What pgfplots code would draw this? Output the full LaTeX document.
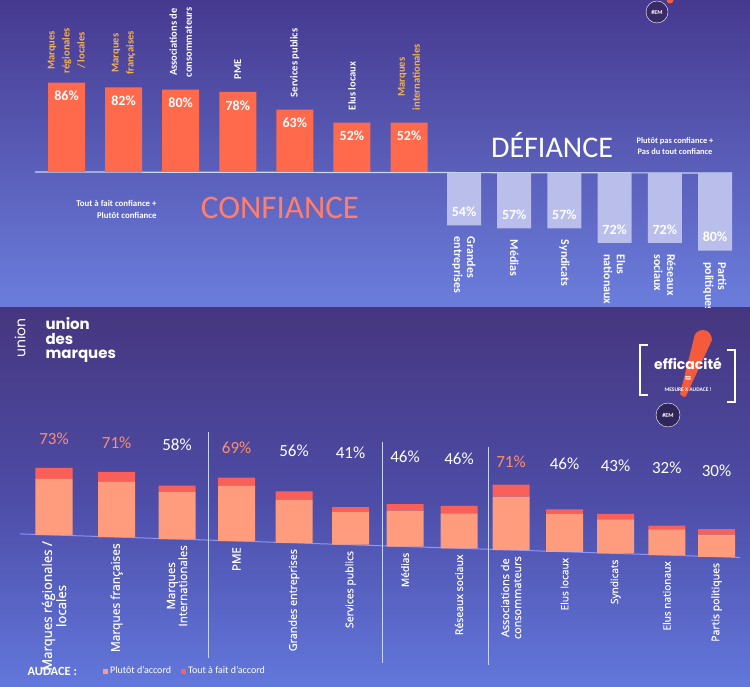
\documentclass[border=0pt]{standalone}
\usepackage{pgfplots}
\pgfplotsset{compat=1.18}
\usepackage{pgfplotstable}
\usepackage{fontspec}
\setmainfont{Carlito}
\newfontfamily\os[FakeBold=0.5]{Open Sans}
\newfontfamily\pop{Poppins}
\definecolor{topA}{HTML}{46398F}
\definecolor{topB}{HTML}{6B7EDD}
\definecolor{botA}{HTML}{46367F}
\definecolor{botB}{HTML}{4D4CA6}
\definecolor{botC}{HTML}{6277DC}
\definecolor{conf}{HTML}{FF6A4C}
\definecolor{gold}{HTML}{F6B24C}
\definecolor{salm}{HTML}{FF7E6C}
\definecolor{defb}{HTML}{BABEEA}
\definecolor{lightb}{HTML}{FF9C7E}
\definecolor{darkb}{HTML}{F9605A}
\definecolor{pct}{HTML}{FF8E6A}
\definecolor{rule}{HTML}{C6D6F2}
\definecolor{excl}{HTML}{F45A3C}
\newcommand\cflab{\bfseries\fontsize{10.5}{15}\selectfont}
\newcommand\dflab{\bfseries\fontsize{12}{13}\selectfont}
\newcommand\pfont{\fontsize{17}{19}\selectfont}
\newcommand\ls[1]{\fontsize{#1}{16}\selectfont}

\pgfplotstableread{
pos val
0 86
1 82
2 80
3 78
4 63
5 52
6 52
}\conftab
\pgfplotstableread{
pos val
0 54
1 57
2 57
3 72
4 72
5 80
}\deftab
\pgfplotstableread{
x p t
54 61 12
116.6 60 11
177 51 7
236.6 60 9
294 47 9
350.5 36 5
405 39 7
459 38 8
511 58 13
564.5 41 5
615.5 37 6
666.8 28 4
716.5 24 6
}\audtab

\begin{document}
\begin{tikzpicture}[x=1pt,y=1pt]
\path[use as bounding box] (0,0) rectangle (750,686);
\shade[top color=topA, bottom color=topB] (0,378) rectangle (750,686);
\shade[top color=botA, bottom color=botC, middle color=botB] (0,0) rectangle (750,378);

% ---------- top slide ----------
\begin{scope}
\clip (0,378) rectangle (750,686);
\draw[rule, line width=1.2pt] (35,514) -- (732,513);
\begin{axis}[at={(37.96pt,514pt)}, anchor=south west, scale only axis,
  width=399.6pt, height=105.9pt,
  xmin=-0.5, xmax=6.5, ymin=10, ymax=100, hide axis,
  ybar, bar width=37pt, clip mode=individual,
  /pgf/number format/assume math mode=true,
  nodes near coords={\pgfmathprintnumber{\pgfplotspointmeta}\%},
  nodes near coords align={anchor=north},
  every node near coord/.append style={font=\bfseries\fontsize{14}{16}\selectfont, text=white, yshift=-5pt}]
\addplot[fill=conf, draw=none] table[x=pos,y=val]{\conftab};
\path (axis cs:0,86) ++(0pt,6pt) node[rotate=90,anchor=west,align=center,text=gold,font=\cflab]{Marques\\régionales\\/ locales};
\path (axis cs:1,82) ++(0pt,9pt) node[rotate=90,anchor=west,align=center,text=gold,font=\cflab]{Marques\\françaises};
\path (axis cs:2,80) ++(0pt,9pt) node[rotate=90,anchor=west,align=center,text=white,font=\cflab]{Associations de\\consommateurs};
\path (axis cs:3,78) ++(0pt,9pt) node[rotate=90,anchor=west,align=center,text=white,font=\cflab]{PME};
\path (axis cs:4,63) ++(0pt,9pt) node[rotate=90,anchor=west,align=center,text=white,font=\cflab]{Services publics};
\path (axis cs:5,52) ++(0pt,9pt) node[rotate=90,anchor=west,align=center,text=white,font=\cflab]{Elus locaux};
\path (axis cs:6,52) ++(0pt,9pt) node[rotate=90,anchor=west,align=center,text=gold,font=\cflab]{Marques\\internationales};
\end{axis}

\begin{axis}[at={(438.9pt,513pt)}, anchor=north west, scale only axis,
  width=301.2pt, height=97pt,
  xmin=-0.5, xmax=5.5, ymin=0, ymax=100, y dir=reverse, hide axis,
  ybar, bar width=34pt, clip=false,
  /pgf/number format/assume math mode=true,
  nodes near coords={\pgfmathprintnumber{\pgfplotspointmeta}\%},
  nodes near coords align={anchor=south},
  every node near coord/.append style={font=\bfseries\fontsize{14}{16}\selectfont, text=white, yshift=5pt}]
\addplot[fill=defb, draw=none] table[x=pos,y=val]{\deftab};
\path (axis cs:0,54) ++(0pt,-8pt) node[rotate=-90,anchor=west,align=left,text=white,font=\dflab]{Grandes\\entreprises};
\path (axis cs:1,57) ++(0pt,-8pt) node[rotate=-90,anchor=west,align=left,text=white,font=\dflab]{Médias};
\path (axis cs:2,57) ++(0pt,-8pt) node[rotate=-90,anchor=west,align=left,text=white,font=\dflab]{Syndicats};
\path (axis cs:3,72) ++(0pt,-8pt) node[rotate=-90,anchor=west,align=left,text=white,font=\dflab]{Elus\\nationaux};
\path (axis cs:4,72) ++(0pt,-8pt) node[rotate=-90,anchor=west,align=left,text=white,font=\dflab]{Réseaux\\sociaux};
\path (axis cs:5,80) ++(0pt,-8pt) node[rotate=-90,anchor=west,align=left,text=white,font=\dflab]{Partis\\politiques};
\end{axis}

\node[text=salm, font=\fontsize{33}{36}\selectfont] at (280,478) {CONFIANCE};
\node[text=white, font=\fontsize{30}{33}\selectfont] at (552,541) {DÉFIANCE};
\node[anchor=east, align=right, text=white, font=\bfseries\fontsize{8.8}{12}\selectfont] at (160,477) {Tout à fait confiance +\\Plutôt confiance};
\node[align=center, text=white, font=\bfseries\fontsize{8.4}{11}\selectfont] at (675,540) {Plutôt pas confiance +\\Pas du tout confiance};
\fill[excl] (670,686) circle (3.5);
\draw[white, fill=botA!80!black, line width=0.4pt] (657,674) circle (11);
\node[text=white, font=\bfseries\fontsize{6}{6}\selectfont] at (657,674) {\#EM};
\end{scope}

% ---------- bottom slide ----------
\node[rotate=90, text=white, font=\pop\fontsize{14}{14}\selectfont] at (20,348) {union};
\node[anchor=north west, align=left, text=white, font=\pop\bfseries\fontsize{15}{14.5}\selectfont] at (42,372) {union\\des\\marques};

\fill[excl] (694,348) to[out=90,in=180] (703,356) to[out=0,in=90] (712,346) -- (686,290) to[out=230,in=-60] (680,292) -- cycle;
\draw[white, line width=2.5pt] (648,341) -- (640,341) -- (640,291) -- (648,291);
\draw[white, line width=2.5pt] (727,336) -- (735,336) -- (735,284) -- (727,284);
\node[text=white, font=\pop\bfseries\fontsize{14}{14}\selectfont] at (688,322) {efficacité};
\node[text=white, font=\bfseries\fontsize{13}{13}\selectfont] at (688,306) {=};
\node[text=white, font=\bfseries\fontsize{5.5}{6}\selectfont] at (688,296) {MESURE X AUDACE !};
\draw[white, fill=botA!70!black, line width=0.4pt] (668,271) circle (12);
\node[text=white, font=\bfseries\fontsize{6}{6}\selectfont] at (668,271) {\#EM};

\begin{axis}[x={(1pt,-0.0328pt)}, y={(0pt,0.92pt)}, anchor=origin, at={(20pt,152.1pt)},
  xmin=20, xmax=740, ymin=0, ymax=80,
  ybar stacked, bar width=37pt,
  axis x line=bottom, axis y line=none,
  axis line style={-, draw=rule!70!blue, line width=1pt},
  xtick={54,116.6,177,236.6,294,350.5,405,459,511,564.5,615.5,666.8,716.5},
  xticklabels={{\ls{13.2}Marques régionales /\\\ls{13.2}locales},{\ls{12}Marques françaises},{\ls{11.5}Marques\\\ls{11.5}Internationales},{\ls{11.5}PME},{\ls{10.8}Grandes entreprises},{\ls{10.5}Services publics},{\ls{10.2}Médias},{\ls{10.5}Réseaux sociaux},{\ls{10.9}Associations de\\\ls{10.9}consommateurs},{\ls{10.1}Elus locaux},{\ls{10.1}Syndicats},{\ls{10.1}Elus nationaux},{\ls{10.5}Partis politiques}},
  major tick length=0pt, ytick=\empty,
  xticklabel style={rotate=90, anchor=east, align=center, inner xsep=6pt, text=white, font=\os},
  clip=false,
  legend style={at={(axis cs:100,-146.2)}, anchor=west, draw=none, fill=none,
    text=white, font=\fontsize{10}{12}\selectfont, legend columns=2,
    /tikz/every even column/.append style={column sep=8pt}},
  legend image code/.code={\fill[#1] (0pt,-2.5pt) rectangle (5pt,2.5pt);}]
\addplot[fill=lightb, draw=none] table[x=x,y=p]{\audtab};
\addplot[fill=darkb, draw=none] table[x=x,y=t]{\audtab};
\legend{Plutôt d'accord, Tout à fait d'accord}
\node[text=pct, font=\pfont] at (axis cs:54,105) {73\%};
\node[text=pct, font=\pfont] at (axis cs:116.6,103) {71\%};
\node[text=white, font=\pfont] at (axis cs:177,103) {58\%};
\node[text=pct, font=\pfont] at (axis cs:236.6,101) {69\%};
\node[text=white, font=\pfont] at (axis cs:294,100) {56\%};
\node[text=white, font=\pfont] at (axis cs:350.5,99.5) {41\%};
\node[text=white, font=\pfont] at (axis cs:405,98) {46\%};
\node[text=white, font=\pfont] at (axis cs:459,97) {46\%};
\node[text=pct, font=\pfont] at (axis cs:511,95.5) {71\%};
\node[text=white, font=\pfont] at (axis cs:564.5,96) {46\%};
\node[text=white, font=\pfont] at (axis cs:615.5,95) {43\%};
\node[text=white, font=\pfont] at (axis cs:666.8,94.5) {32\%};
\node[text=white, font=\pfont] at (axis cs:716.5,93) {30\%};
\end{axis}

\draw[rule, line width=0.8pt] (208,254) -- (208,28);
\draw[rule, line width=0.8pt] (382,244) -- (382,23);
\draw[rule, line width=0.8pt] (488,239) -- (488,21);
\node[anchor=west, text=white, font=\bfseries\fontsize{12.5}{14}\selectfont] at (24,15) {AUDACE :};
\end{tikzpicture}
\end{document}
